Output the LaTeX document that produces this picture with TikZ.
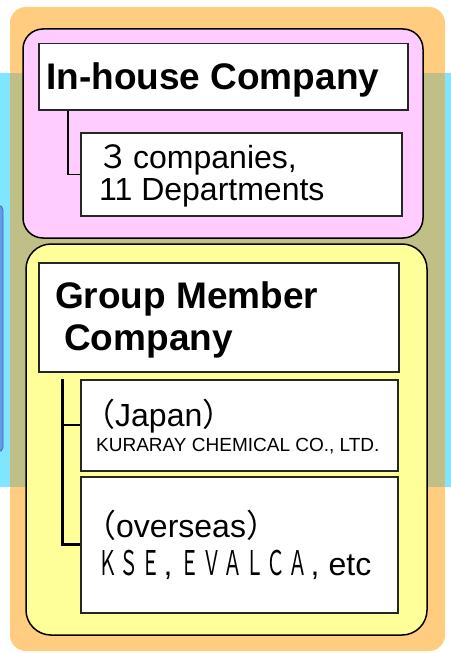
\documentclass[tikz,border=0pt]{standalone}
\usepackage{fontspec}
\setmainfont{Liberation Sans}
\newfontfamily\cjk{Noto Sans CJK JP}
\definecolor{cyanbg}{RGB}{128,229,255}
\definecolor{orangebg}{RGB}{255,204,128}
\definecolor{olivebg}{RGB}{191,191,135}
\definecolor{pinkbox}{RGB}{255,204,255}
\definecolor{yellowbox}{RGB}{255,255,153}
\definecolor{bluebox}{RGB}{102,153,238}
\newcommand{\fwc}[1]{\makebox[21.5bp]{\scalebox{0.56}[1]{\cjk\fontsize{34bp}{34bp}\selectfont #1}}}
\newcommand{\fwcomma}[1]{\makebox[#1][l]{\hspace{2bp},}}
\begin{document}
\begin{tikzpicture}[x=1bp,y=-1bp,
  panel/.style={draw=black,line width=1.5bp,rounded corners=#1},
  wbox/.style={draw=black!85,line width=1.5bp,fill=white,anchor=north west,inner sep=0pt},
  txt/.style={anchor=base west,inner sep=0pt,text=black},
  titlef/.style={font=\fontsize{37bp}{42bp}\selectfont\bfseries},
  bodyf/.style={font=\fontsize{32bp}{36bp}\selectfont},
  smallf/.style={font=\fontsize{19bp}{21bp}\selectfont}]
\useasboundingbox (0,0) rectangle (451,653);
\clip (0,0) rectangle (451,653);
% background
\fill[cyanbg] (0,73) rectangle (451,487);
\draw[bluebox!70!black,fill=bluebox,line width=0.8bp,rounded corners=5bp] (-20,205) rectangle (3,452);
\fill[orangebg,rounded corners=16bp] (10,7) rectangle (445,651);
\fill[olivebg] (10,73) rectangle (445,487);
% in-house panel
\filldraw[panel=20bp,fill=pinkbox] (23,29) rectangle (423,238);
\node[wbox,minimum width=369bp,minimum height=66bp] (t1) at (38,43) {};
\node[wbox,minimum width=321bp,minimum height=83bp] (s1) at (80,132) {};
\draw[line width=1.2bp] ([xshift=30bp]t1.south west) |- (s1.west);
\node[txt,titlef] (l1) at (46,90) {In-house Company};
\node[txt,bodyf] (l2) at (97,168) {{\cjk ３}\hspace{4bp}companies,};
\node[txt,bodyf] (l3) at (99,200) {11 Departments};
% group panel
\filldraw[panel=25bp,fill=yellowbox] (26,244) rectangle (427,635);
\node[wbox,minimum width=360bp,minimum height=109bp] (t2) at (38,262) {};
\node[wbox,minimum width=317bp,minimum height=91bp] (jp) at (80,379) {};
\node[wbox,minimum width=317bp,minimum height=136bp] (ov) at (80,476) {};
\coordinate (top2) at ([xshift=24bp,yshift=-6bp]t2.south west);
\draw[line width=3bp] (top2) |- (ov.west);
\draw[line width=2bp] (top2 |- jp.west) -- (jp.west);
\node[txt,titlef] (g1) at (55,308) {Group Member};
\node[txt,titlef] (g2) at (64,350) {Company};
\node[txt,bodyf] (j1) at (83,426) {{\cjk （}Japan{\cjk ）}};
\node[txt,smallf] (j2) at (96,451) {KURARAY CHEMICAL CO., LTD.};
\node[txt,bodyf] (o1) at (84,537) {{\cjk （}overseas{\cjk ）}};
\node[txt,bodyf] (o2) at (97,575) {\fwc{Ｋ}\fwc{Ｓ}\fwc{Ｅ}\fwcomma{18bp}\fwc{Ｅ}\fwc{Ｖ}\fwc{Ａ}\fwc{Ｌ}\fwc{Ｃ}\fwc{Ａ}\fwcomma{20bp}etc};
\end{tikzpicture}
\end{document}
